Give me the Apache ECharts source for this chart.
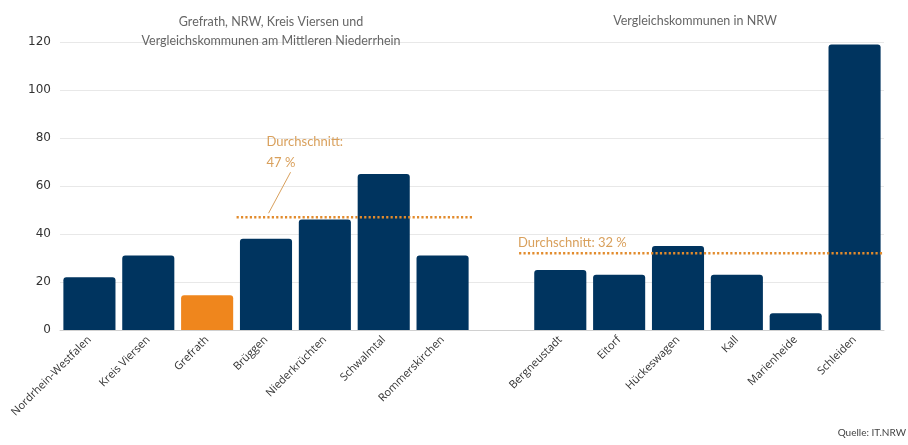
<!DOCTYPE html>
<html>
<head>
<meta charset="utf-8">
<script src="https://cdn.jsdelivr.net/npm/echarts@6/dist/echarts.min.js"></script>
<style>
  html, body { margin: 0; padding: 0; background: #fff; }
  #chart { width: 908px; height: 445px; }
</style>
</head>
<body>
<div id="chart"></div>
<script>
// Kommunen (an empty slot separates the two groups)
const categories = [
  'Nordrhein-Westfalen', 'Kreis Viersen', 'Grefrath', 'Brüggen',
  'Niederkrüchten', 'Schwalmtal', 'Rommerskirchen', '',
  'Bergneustadt', 'Eitorf', 'Hückeswagen', 'Kall', 'Marienheide', 'Schleiden'
];
const values = [22, 31, 14.5, 38, 46, 65, 31, null, 25, 23, 35, 23, 7, 119];
const highlighted = 'Grefrath';

// Group averages: value and the category span (slot units) each line covers
const averageLeft = 47;
const averageRight = 32;
const spanLeft = [3, 7];
const spanRight = [7.8, 14];

const yTicks = { min: 0, max: 120, interval: 20 };

const NAVY = '#00345f';
const ORANGE = '#ef861d';
const AVG_LINE = '#e28b2c';
const AVG_TEXT = '#d9a05c';

const chart = echarts.init(document.getElementById('chart'), null, { renderer: 'canvas' });

const grid = { left: 60, right: 24, top: 42, bottom: 115 };

chart.setOption({
  animation: false,
  backgroundColor: '#ffffff',
  title: [
    {
      text: 'Grefrath, NRW, Kreis Viersen und\nVergleichskommunen am Mittleren Niederrhein',
      left: 266, top: 7, textAlign: 'center',
      textStyle: { fontFamily: 'Lato', fontSize: 12.5, fontWeight: 'normal', color: '#666', lineHeight: 19 }
    },
    {
      text: 'Vergleichskommunen in NRW',
      left: 690, top: 9, textAlign: 'center',
      textStyle: { fontFamily: 'Lato', fontSize: 12.5, fontWeight: 'normal', color: '#666' }
    },
    {
      text: 'Quelle: IT.NRW',
      right: -3, bottom: 2,
      textStyle: { fontFamily: 'Lato', fontSize: 10, fontWeight: 'normal', color: '#444' }
    }
  ],
  grid: grid,
  xAxis: [
    {
      type: 'category',
      data: categories,
      axisLine: { show: true, lineStyle: { color: '#d0d0d0', width: 1 } },
      axisTick: { show: false },
      axisLabel: {
        rotate: 45, interval: 0, margin: 8,
        color: '#333', fontSize: 11, fontFamily: '"Open Sans"'
      }
    },
    {
      type: 'value', min: 0, max: categories.length,
      show: false
    }
  ],
  yAxis: {
    type: 'value',
    min: yTicks.min, max: yTicks.max, interval: yTicks.interval,
    axisLine: { show: false },
    axisTick: { show: false },
    axisLabel: { color: '#333', fontSize: 12, margin: 9, fontFamily: '"DejaVu Sans"' },
    splitLine: { lineStyle: { color: '#e8e8e8', width: 1 } }
  },
  series: [
    {
      type: 'bar',
      xAxisIndex: 0,
      barCategoryGap: '11.5%',
      data: values.map((v, i) => ({
        value: v,
        itemStyle: {
          color: categories[i] === highlighted ? ORANGE : NAVY,
          borderRadius: [3, 3, 0, 0]
        }
      }))
    },
    {
      type: 'line',
      xAxisIndex: 1,
      symbol: 'none',
      silent: true,
      lineStyle: { color: AVG_LINE, width: 2.5, type: [2.2, 2.2] },
      data: [[spanLeft[0], averageLeft], [spanLeft[1], averageLeft]],
      z: 5
    },
    {
      type: 'line',
      xAxisIndex: 1,
      symbol: 'none',
      silent: true,
      lineStyle: { color: AVG_LINE, width: 2.5, type: [2.2, 2.2] },
      data: [[spanRight[0], averageRight], [spanRight[1], averageRight]],
      z: 5
    }
  ]
});

// Average annotations anchored to the lines' start points
const pLeft = chart.convertToPixel({ xAxisIndex: 1, yAxisIndex: 0 }, [spanLeft[0], averageLeft]);
const pRight = chart.convertToPixel({ xAxisIndex: 1, yAxisIndex: 0 }, [spanRight[0], averageRight]);

chart.setOption({
  graphic: [
    {
      type: 'text',
      x: pLeft[0] + 30, y: pLeft[1] - 86,
      style: {
        text: 'Durchschnitt:\n' + averageLeft + ' %',
        fill: AVG_TEXT, font: '13px Lato', lineHeight: 21
      }
    },
    {
      type: 'line',
      shape: { x1: pLeft[0] + 54, y1: pLeft[1] - 45, x2: pLeft[0] + 32, y2: pLeft[1] - 4 },
      style: { stroke: AVG_TEXT, lineWidth: 1 }
    },
    {
      type: 'text',
      x: pRight[0] - 1, y: pRight[1] - 17,
      style: {
        text: 'Durchschnitt: ' + averageRight + ' %',
        fill: AVG_TEXT, font: '13px Lato'
      }
    }
  ]
});
</script>
</body>
</html>
